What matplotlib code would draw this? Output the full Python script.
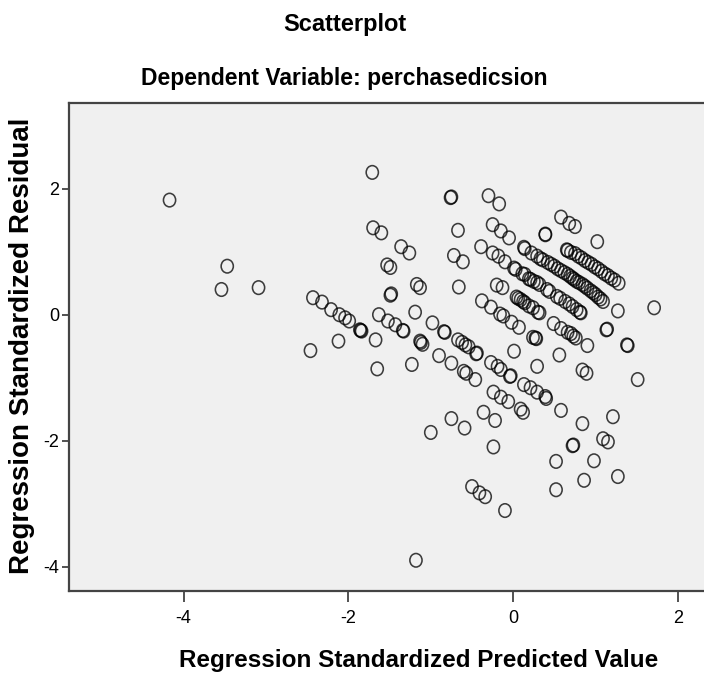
import matplotlib
matplotlib.use("Agg")
from matplotlib import pyplot as plt
from matplotlib.markers import MarkerStyle
from matplotlib.transforms import Affine2D

# regression standardized predicted value / residual pairs
pred = [
    -4.17, -3.47, -3.54, -3.09,
    -2.43, -2.32, -2.21, -2.11, -2.04, -1.99, -1.86, -1.84, -1.85, -2.46, -2.12,
    -1.71, -1.70, -1.60, -1.36, -1.26, -1.53, -1.49, -1.17, -1.13, -1.48, -1.49,
    -1.67, -1.65, -1.63, -1.52, -1.43, -1.33, -1.34, -1.19, -0.98, -1.23, -1.13, -1.10, -1.12, -0.83, -0.84,
    -0.67, -0.62, -0.58, -0.54, -0.45, -0.44,
    -0.90, -0.75, -0.60, -0.57, -0.46,
    -0.27, -0.19, -0.15, -0.03, -0.04,
    -0.24, -0.15, -0.06, 0.09, 0.12,
    0.13, 0.21, 0.29, 0.39, 0.40,
    0.58, 0.84, 1.21, 0.72, 0.73, 1.09, 1.15,
    0.52, 0.98, 0.52, 0.86, 1.27,
    -0.36, -0.22, -0.75, -0.59, -1.00, -0.24,
    -0.50, -0.41, -0.34, -0.10, -1.18,
    -0.76, -0.75, -0.30, -0.17, -0.67, -0.25, -0.15, -0.05,
    0.58, 0.68, 0.75, 0.39, 0.39, 1.02,
    -0.72, -0.61, -0.66,
    -0.39, -0.25, -0.18, -0.10, 0.01,
    0.13, 0.14, 0.22, 0.29, 0.33, 0.36, 0.42, 0.46, 0.50, 0.54, 0.58, 0.62, 0.66, 0.69,
    0.72, 0.74, 0.77, 0.80, 0.84, 0.87, 0.90, 0.94, 0.97, 1.00, 1.03, 1.06, 1.09,
    0.65, 0.66, 0.70, 0.75, 0.79, 0.83, 0.87, 0.91, 0.95, 0.99, 1.03, 1.07, 1.11, 1.15, 1.19, 1.23, 1.28,
    0.03, 0.11, 0.14, 0.19, 0.21, 0.25, 0.29, 0.32, 0.41, 0.44, 0.53, 0.57, 0.63, 0.68, 0.72, 0.77, 0.81, 0.82,
    -0.20, -0.13, 0.04, 0.06, 0.09, 0.12, 0.14, 0.19, 0.24, 0.30, 0.32,
    -0.38, -0.27, -0.16, -0.12, -0.02, 0.07,
    0.49, 0.58, 0.66, 0.70, 0.73, 0.76,
    0.24, 0.27, 0.28, 0.90, 1.13, 1.14, 1.39, 1.38, 1.51, 0.56, 0.29, 0.01, 0.84, 0.89, 1.27, 1.71,
]
resid = [
    1.82, 0.77, 0.40, 0.43,
    0.27, 0.20, 0.08, 0.00, -0.05, -0.10, -0.24, -0.26, -0.25, -0.57, -0.42,
    2.26, 1.38, 1.30, 1.08, 0.98, 0.79, 0.75, 0.48, 0.43, 0.33, 0.31,
    -0.40, -0.86, 0.00, -0.10, -0.16, -0.26, -0.25, 0.04, -0.13, -0.79, -0.42, -0.47, -0.44, -0.28, -0.27,
    -0.40, -0.44, -0.48, -0.51, -0.62, -0.61,
    -0.65, -0.77, -0.90, -0.93, -1.03,
    -0.76, -0.82, -0.87, -0.97, -0.98,
    -1.23, -1.31, -1.38, -1.50, -1.55,
    -1.11, -1.16, -1.23, -1.30, -1.33,
    -1.52, -1.73, -1.62, -2.08, -2.07, -1.97, -2.02,
    -2.33, -2.32, -2.78, -2.63, -2.57,
    -1.55, -1.68, -1.65, -1.80, -1.87, -2.10,
    -2.73, -2.83, -2.89, -3.11, -3.90,
    1.86, 1.87, 1.89, 1.76, 1.34, 1.43, 1.33, 1.22,
    1.55, 1.45, 1.40, 1.28, 1.27, 1.16,
    0.94, 0.84, 0.44,
    1.08, 0.98, 0.93, 0.84, 0.74,
    1.07, 1.05, 0.98, 0.93, 0.89, 0.87, 0.83, 0.80, 0.77, 0.73, 0.70, 0.67, 0.64, 0.61,
    0.58, 0.56, 0.53, 0.51, 0.48, 0.45, 0.42, 0.38, 0.35, 0.32, 0.28, 0.25, 0.21,
    1.03, 1.02, 0.99, 0.97, 0.93, 0.90, 0.86, 0.83, 0.80, 0.76, 0.73, 0.69, 0.65, 0.62, 0.58, 0.55, 0.50,
    0.72, 0.65, 0.64, 0.57, 0.56, 0.53, 0.51, 0.48, 0.40, 0.37, 0.29, 0.26, 0.21, 0.17, 0.13, 0.08, 0.04, 0.03,
    0.47, 0.43, 0.28, 0.26, 0.24, 0.21, 0.19, 0.14, 0.11, 0.04, 0.03,
    0.22, 0.12, 0.01, -0.02, -0.12, -0.20,
    -0.14, -0.22, -0.28, -0.30, -0.34, -0.37,
    -0.36, -0.37, -0.38, -0.49, -0.24, -0.23, -0.49, -0.48, -1.03, -0.64, -0.82, -0.58, -0.88, -0.93, 0.06, 0.11,
]
xticks = [-4, -2, 0, 2]
yticks = [-4, -2, 0, 2]

title = "Scatterplot"
subtitle = "Dependent Variable: perchasedicsion"
xlabel = "Regression Standardized Predicted Value"
ylabel = "Regression Standardized Residual"

narrow = ["Liberation Sans Narrow", "Liberation Sans", "DejaVu Sans"]

fig = plt.figure(figsize=(7.04, 6.77), dpi=100, facecolor="white")
W, H = 704.0, 677.0
# plot box runs off the right edge of the picture, as in the original
ax = fig.add_axes([69 / W, 1 - 590.5 / H, (711 - 69) / W, (590.5 - 102.5) / H])
ax.set_facecolor("#f0f0f0")

# slightly tall open circles, like the squeezed SPSS markers
oval = MarkerStyle("o", transform=Affine2D().scale(0.9, 1.0))
ax.scatter(pred, resid, s=95, marker=oval, facecolors="none",
           edgecolors="black", linewidths=1.15, alpha=0.75)

ax.set_xlim(-5.39, 2.40)
ax.set_ylim(-4.38, 3.37)
ax.set_xticks(xticks)
ax.set_yticks(yticks)
ax.set_xticklabels([str(t) for t in xticks], family=narrow, fontsize=13)
ax.set_yticklabels([str(t) for t in yticks], family=narrow, fontsize=13)
ax.tick_params(axis="x", direction="out", length=8, width=1.2, color="#333333", pad=6)
ax.tick_params(axis="y", direction="out", length=5, width=1.2, color="#333333", pad=2)
for side in ax.spines.values():
    side.set_color("#444444")
    side.set_linewidth(1.6)

fig.text(345 / W, 1 - 25 / H, title, ha="center", va="center", fontsize=17,
         fontweight="bold", family=narrow)
fig.text(344 / W, 1 - 79 / H, subtitle, ha="center", va="center", fontsize=16.5,
         fontweight="bold", family=narrow)
fig.text(419 / W, 1 - 661 / H, xlabel, ha="center", va="center", fontsize=17.5,
         fontweight="bold", family=narrow)
fig.text(22 / W, 1 - 346 / H, ylabel, ha="center", va="center", rotation=90,
         fontsize=20, fontweight="bold", family=["Liberation Sans", "DejaVu Sans"])

fig.savefig("out.png", dpi=100, facecolor="white")
